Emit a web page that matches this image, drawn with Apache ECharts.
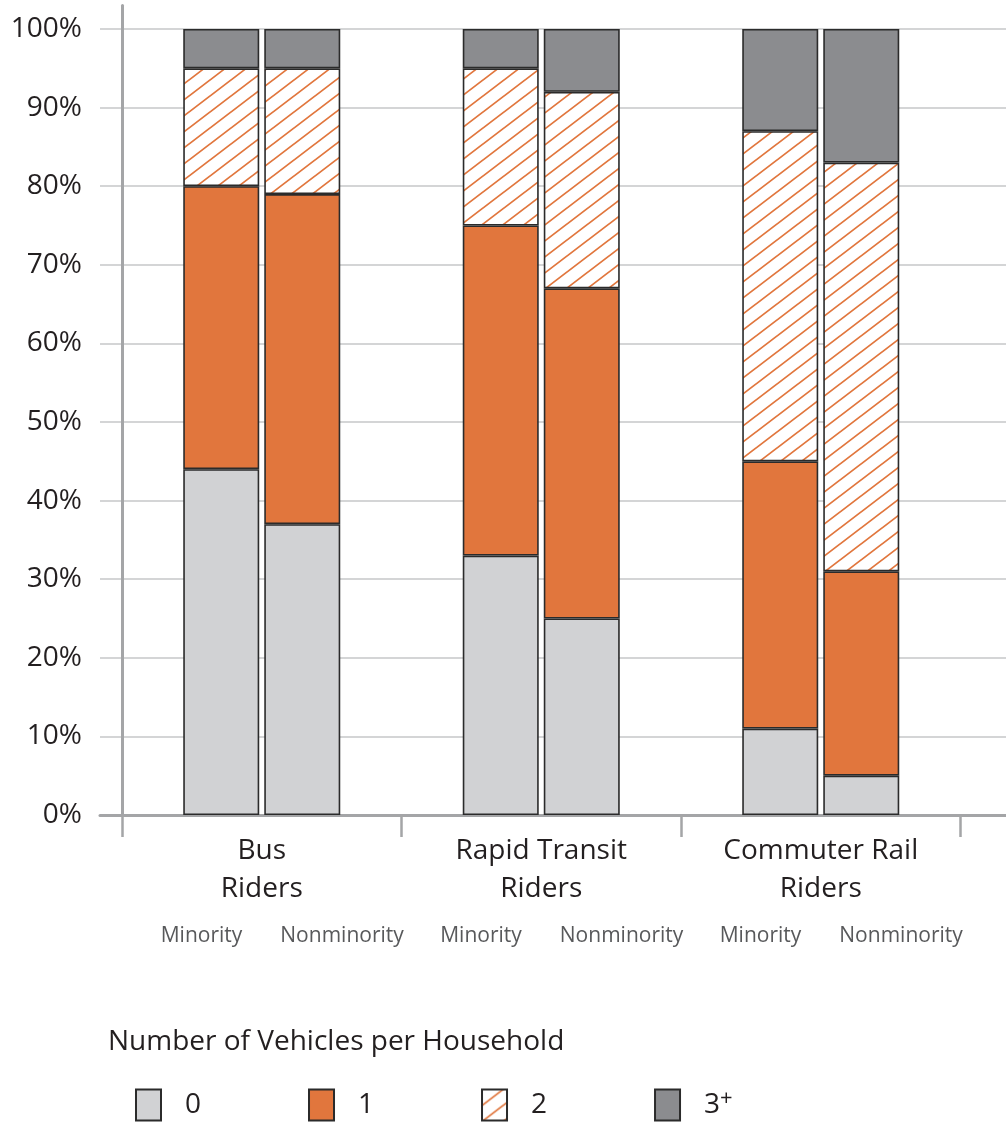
<!DOCTYPE html>
<html>
<head>
<meta charset="utf-8">
<script src="https://cdn.jsdelivr.net/npm/echarts@6/dist/echarts.min.js"></script>
<style>
  html, body { margin: 0; padding: 0; background: #ffffff; }
  #chart { width: 1006px; height: 1124px; }
</style>
</head>
<body>
<div id="chart"></div>
<script>
// Rider groups and the two population subgroups inside each group
const groups = ['Bus\nRiders', 'Rapid Transit\nRiders', 'Commuter Rail\nRiders'];
const subgroups = ['Minority', 'Nonminority'];
const levels = ['0', '1', '2', '3+'];

// Share of households (%) by number of vehicles, one entry per rider group
const minorityZero = [44, 33, 11];
const minorityOne = [36, 42, 34];
const minorityTwo = [15, 20, 42];
const minorityThreePlus = [5, 5, 13];

const nonminorityZero = [37, 25, 5];
const nonminorityOne = [42, 42, 26];
const nonminorityTwo = [16, 25, 52];
const nonminorityThreePlus = [5, 8, 17];

const FONT = '"Open Sans", "Noto Sans", sans-serif';
const INK = '#231f20';
const ORANGE = '#e1763d';
const AXIS_GREY = '#a4a5a7';

// Diagonal orange hatching on white for the "2 vehicles" segment
function makeHatch() {
  const W = 21, H = 16;
  const c = document.createElement('canvas');
  c.width = W; c.height = H;
  const ctx = c.getContext('2d');
  ctx.fillStyle = '#ffffff';
  ctx.fillRect(0, 0, W, H);
  ctx.strokeStyle = ORANGE;
  ctx.lineWidth = 1.7;
  ctx.beginPath();
  for (let k = -1; k <= 1; k++) {
    ctx.moveTo(k * W - 3, H + 3 * H / W);
    ctx.lineTo(k * W + W + 3, -3 * H / W);
  }
  ctx.stroke();
  return c;
}

const fills = ['#d1d2d4', ORANGE, { image: makeHatch(), repeat: 'repeat' }, '#8b8c8f'];
const minoritySeries = [minorityZero, minorityOne, minorityTwo, minorityThreePlus];
const nonminoritySeries = [nonminorityZero, nonminorityOne, nonminorityTwo, nonminorityThreePlus];

const series = [];
levels.forEach((lvl, i) => {
  [[subgroups[0], minoritySeries[i]], [subgroups[1], nonminoritySeries[i]]].forEach(([sub, values]) => {
    series.push({
      name: lvl,
      type: 'bar',
      xAxisIndex: 1,
      yAxisIndex: 1,
      stack: sub,
      data: values,
      barWidth: 76,
      barGap: '6.6%',
      itemStyle: { color: fills[i], borderColor: '#2b2b2b', borderWidth: 1.6 },
      emphasis: { disabled: true }
    });
  });
});

const chart = echarts.init(document.getElementById('chart'), null, { renderer: 'canvas' });

chart.setOption({
  animation: false,
  textStyle: { fontFamily: FONT },
  title: {
    text: 'Number of Vehicles per Household',
    left: 108,
    top: 1028,
    padding: 0,
    textStyle: { fontFamily: FONT, fontSize: 28, fontWeight: 'normal', color: INK }
  },
  legend: {
    data: levels,
    left: 135,
    top: 1088,
    padding: 0,
    icon: 'rect',
    itemWidth: 25,
    itemHeight: 31,
    itemGap: 107,
    selectedMode: false,
    formatter: name => name === '3+' ? '3{sup|+}' : name,
    textStyle: {
      fontFamily: FONT, fontSize: 28, color: INK, padding: [0, 0, 0, 19],
      rich: { sup: { fontFamily: FONT, fontSize: 22, color: INK, verticalAlign: 'top', padding: [0, 0, 12, 0] } }
    }
  },
  grid: [
    { left: 100, right: 0, top: 5.4, bottom: 309, containLabel: false, outerBoundsMode: 'none' },
    { left: 122, right: 45.5, top: 5.4, bottom: 309, containLabel: false, outerBoundsMode: 'none' }
  ],
  xAxis: [
    {
      gridIndex: 0, type: 'value', min: 0, max: 1,
      axisLine: { show: true, onZero: false, lineStyle: { color: AXIS_GREY, width: 3 } },
      axisTick: { show: false }, axisLabel: { show: false }, splitLine: { show: false }
    },
    {
      gridIndex: 1, type: 'category', data: groups,
      axisLine: { show: false },
      axisTick: { show: true, length: 22, lineStyle: { color: AXIS_GREY, width: 2.5 } },
      axisLabel: {
        interval: 0,
        margin: 17,
        formatter: value => {
          const [a, b] = value.split('\n');
          return `{g|${a}}\n{g|${b}}\n{s|${subgroups[0]}}{n|${subgroups[1]}}`;
        },
        rich: {
          g: { fontFamily: FONT, fontSize: 28, lineHeight: 38, color: INK },
          s: { fontFamily: FONT, fontSize: 21, lineHeight: 56, color: '#58595b', padding: [0, 38, 0, 41] },
          n: { fontFamily: FONT, fontSize: 21, lineHeight: 56, color: '#58595b' }
        }
      }
    }
  ],
  yAxis: [
    {
      gridIndex: 0, type: 'value', min: 0, max: 103, interval: 10,
      axisLine: { show: false }, axisTick: { show: false }, axisLabel: { show: false },
      splitLine: { show: true, showMinLine: false, showMaxLine: false, lineStyle: { color: '#c6c7c9', width: 1.5 } }
    },
    {
      gridIndex: 1, type: 'value', min: 0, max: 103, interval: 10,
      axisLine: { show: true, lineStyle: { color: AXIS_GREY, width: 3 } },
      axisTick: { show: false },
      splitLine: { show: false },
      axisLabel: { margin: 40, showMaxLabel: false, formatter: '{value}%', fontFamily: FONT, fontSize: 28, color: INK }
    }
  ],
  series: series
});
</script>
</body>
</html>
